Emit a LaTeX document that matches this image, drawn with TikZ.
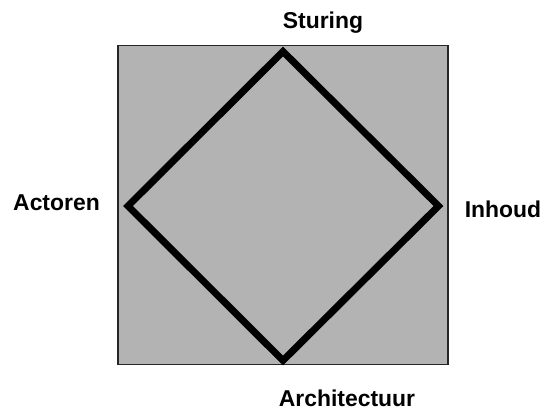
\documentclass[tikz,border=0pt]{standalone}
\usepackage{fontspec}
\setmainfont{Liberation Sans}
\definecolor{boxgray}{RGB}{179,179,179}
\begin{document}
\begin{tikzpicture}[x=1bp,y=1bp,
  lbl/.style={font=\fontsize{23}{26}\selectfont\bfseries, anchor=base, inner sep=0pt},
  sq/.style={draw=black!85, line width=1.2bp, fill=boxgray},
  dia/.style={draw=black, line width=7bp, line join=miter}]
\useasboundingbox (0,0) rectangle (545,410);
\coordinate (sqa) at (118,364.5);
\coordinate (sqb) at (448,45.5);
\draw[sq] (sqa) rectangle (sqb);
\coordinate (top) at (283,358.5);
\coordinate (right) at (438.5,204);
\coordinate (bottom) at (283,49.5);
\coordinate (left) at (128,204);
\draw[dia] (top) -- (right) -- (bottom) -- (left) -- cycle;
\node[lbl] (sturing) at (323,382) {Sturing};
\node[lbl] (actoren) at (56.5,200) {Actoren};
\node[lbl] (inhoud) at (503,193) {Inhoud};
\node[lbl] (arch) at (347,4) {Architectuur};
\end{tikzpicture}
\end{document}
